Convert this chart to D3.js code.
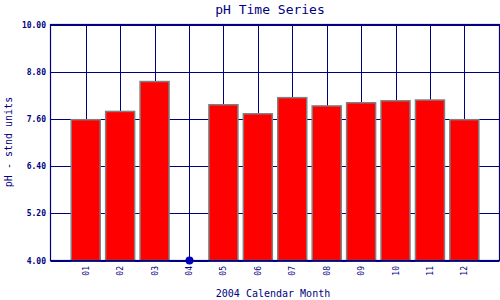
<!DOCTYPE html>
<html>
<head>
<meta charset="utf-8">
<script src="https://cdn.jsdelivr.net/npm/d3@7"></script>
<style>
  body { margin: 0; background: #fff; }
  svg { display: block; }
</style>
</head>
<body>
<svg id="chart"></svg>
<script>
const months = ['01', '02', '03', '04', '05', '06', '07', '08', '09', '10', '11', '12'];
const phValues = [7.58, 7.79, 8.55, null, 7.96, 7.73, 8.14, 7.93, 8.01, 8.06, 8.08, 7.58];
const yTicks = [4.0, 5.2, 6.4, 7.6, 8.8, 10.0];

const w = 500;
const h = 300;
const plotL = 50.5, plotR = 499.5, plotT = 24.5, plotB = 260.5;
const navy = '#000080';
const mono = '"DejaVu Sans Mono", "Liberation Mono", monospace';

const svg = d3.select('#chart').attr('width', w).attr('height', h);

const xScale = d3.scaleLinear()
                .domain([0, 13])
                .range([51.3, 498.8]);
const yScale = d3.scaleLinear()
                .domain([4, 10])
                .range([plotB, plotT]);

// grid - horizontal
svg.append('g').selectAll('line')
   .data(yTicks)
   .enter()
   .append('line')
   .attr('x1', plotL).attr('x2', plotR)
   .attr('y1', (d) => Math.round(yScale(d)) + 0.5)
   .attr('y2', (d) => Math.round(yScale(d)) + 0.5)
   .attr('stroke', navy)
   .attr('stroke-width', 1);

// grid - vertical at each month
svg.append('g').selectAll('line')
   .data(months)
   .enter()
   .append('line')
   .attr('x1', (d, i) => Math.round(xScale(i + 1)) + 0.5)
   .attr('x2', (d, i) => Math.round(xScale(i + 1)) + 0.5)
   .attr('y1', plotT).attr('y2', plotB)
   .attr('stroke', navy)
   .attr('stroke-width', 1);

// bars
const barW = 29;
svg.append('g').selectAll('rect')
   .data(phValues.map((v, i) => ({ m: months[i], i: i, v: v })).filter((d) => d.v != null))
   .enter()
   .append('rect')
   .attr('x', (d) => xScale(d.i + 1) - barW / 2)
   .attr('y', (d) => yScale(d.v))
   .attr('width', barW)
   .attr('height', (d) => plotB - yScale(d.v))
   .attr('fill', '#ff0000')
   .attr('stroke', '#808080')
   .attr('stroke-width', 1.5);

// missing values shown as a dot on the baseline
svg.append('g').selectAll('circle')
   .data(phValues.map((v, i) => ({ i: i, v: v })).filter((d) => d.v == null))
   .enter()
   .append('circle')
   .attr('cx', (d) => Math.round(xScale(d.i + 1)) + 0.5)
   .attr('cy', yScale(4))
   .attr('r', 4)
   .attr('fill', '#0000cc');

// frame
svg.append('rect')
   .attr('x', plotL).attr('y', plotT)
   .attr('width', plotR - plotL).attr('height', plotB - plotT)
   .attr('fill', 'none')
   .attr('stroke', navy)
   .attr('stroke-width', 1.2);

// y tick labels
svg.append('g').selectAll('text')
   .data(yTicks)
   .enter()
   .append('text')
   .attr('x', 46)
   .attr('y', (d) => yScale(d) + 3)
   .attr('text-anchor', 'end')
   .attr('font-family', mono)
   .attr('font-size', 8)
   .attr('font-weight', 'bold')
   .attr('fill', navy)
   .text((d) => d3.format('.2f')(d));

// x tick labels, rotated
svg.append('g').selectAll('text')
   .data(months)
   .enter()
   .append('text')
   .attr('transform', (d, i) => 'translate(' + (xScale(i + 1) + 3) + ',' + 266 + ') rotate(-90)')
   .attr('text-anchor', 'end')
   .attr('font-family', mono)
   .attr('font-size', 8)
   .attr('fill', navy)
   .text((d) => d);

// title and axis titles
svg.append('text')
   .attr('x', 270).attr('y', 14)
   .attr('text-anchor', 'middle')
   .attr('font-family', mono)
   .attr('font-size', 13)
   .attr('fill', navy)
   .text('pH Time Series');

svg.append('text')
   .attr('x', 273).attr('y', 297)
   .attr('text-anchor', 'middle')
   .attr('font-family', mono)
   .attr('font-size', 10)
   .attr('fill', navy)
   .text('2004 Calendar Month');

svg.append('text')
   .attr('transform', 'translate(12,142) rotate(-90)')
   .attr('text-anchor', 'middle')
   .attr('font-family', mono)
   .attr('font-size', 10)
   .attr('fill', navy)
   .text('pH - stnd units');
</script>
</body>
</html>
